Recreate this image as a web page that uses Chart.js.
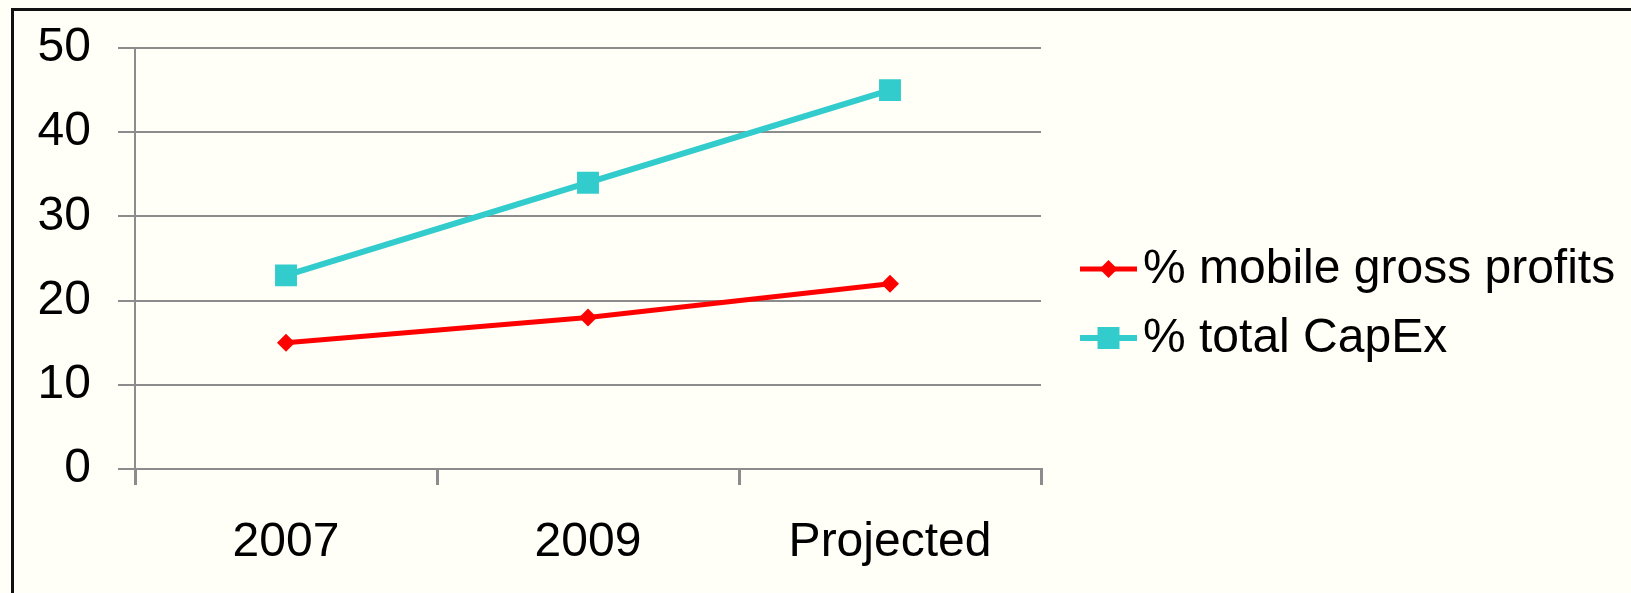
<!DOCTYPE html>
<html>
<head>
<meta charset="utf-8">
<script src="https://cdn.jsdelivr.net/npm/chart.js@4/dist/chart.umd.min.js"></script>
<style>
    html, body { margin: 0; padding: 0; background: #fffff8; overflow: hidden; }
    #frame { position: absolute; left: 11px; top: 8px; right: -20px; bottom: -20px; border: 3px solid #111; }
    #wrap { position: absolute; left: 0; top: 0; width: 1631px; height: 593px; }
</style>
</head>
<body>
<div id="frame"></div>
<div id="wrap"><canvas id="chart"></canvas></div>
<script>
const categories = ['2007', '2009', 'Projected'];
const mobileGrossProfits = [15, 18, 22];
const totalCapex = [23, 34, 45];
const yTickValues = [0, 10, 20, 30, 40, 50];

const gridGray = '#8c8c8c';
const fontFamily = "'Liberation Sans', Arial, sans-serif";

// legend drawn by hand: Excel-style line + marker swatch
const lineLegend = {
    id: 'lineLegend',
    afterDraw(chart, args, opts) {
        const ctx = chart.ctx;
        chart.data.datasets.forEach((ds, i) => {
            const y = opts.top + i * opts.rowGap;
            const cx = opts.left + opts.lineLength / 2;
            ctx.save();
            ctx.strokeStyle = ds.borderColor;
            ctx.lineWidth = ds.borderWidth;
            ctx.beginPath();
            ctx.moveTo(opts.left, y);
            ctx.lineTo(opts.left + opts.lineLength, y);
            ctx.stroke();
            ctx.fillStyle = ds.pointBackgroundColor;
            ctx.beginPath();
            if (ds.pointStyle === 'rect') {
                const s = opts.squareSize / 2;
                ctx.rect(cx - s, y - s, 2 * s, 2 * s);
            } else {
                const r = opts.diamondSize;
                ctx.moveTo(cx - r, y);
                ctx.lineTo(cx, y - r);
                ctx.lineTo(cx + r, y);
                ctx.lineTo(cx, y + r);
                ctx.closePath();
            }
            ctx.fill();
            ctx.fillStyle = '#000';
            ctx.font = `${opts.fontSize}px ${fontFamily}`;
            ctx.textBaseline = 'middle';
            ctx.textAlign = 'left';
            ctx.fillText(ds.label, opts.left + opts.lineLength + opts.textGap, y + 1);
            ctx.restore();
        });
    }
};

new Chart(document.getElementById('chart'), {
    type: 'line',
    data: {
        labels: categories,
        datasets: [
            {
                label: '% mobile gross profits',
                data: mobileGrossProfits,
                borderColor: '#ff0000',
                backgroundColor: '#ff0000',
                pointBackgroundColor: '#ff0000',
                pointBorderColor: '#ff0000',
                borderWidth: 5,
                pointStyle: 'rectRot',
                pointRadius: 9,
                pointBorderWidth: 0,
                tension: 0,
            },
            {
                label: '% total CapEx',
                data: totalCapex,
                borderColor: '#33cccc',
                backgroundColor: '#33cccc',
                pointBackgroundColor: '#33cccc',
                pointBorderColor: '#33cccc',
                borderWidth: 6,
                pointStyle: 'rect',
                pointRadius: 15.5,
                pointBorderWidth: 0,
                tension: 0,
            }
        ]
    },
    options: {
        responsive: true,
        maintainAspectRatio: false,
        animation: false,
        layout: { padding: { left: 14, top: 48, right: 590, bottom: 0 } },
        scales: {
            x: {
                offset: true,
                grid: { offset: true, drawOnChartArea: false, drawTicks: true, tickLength: 16, color: gridGray, lineWidth: 3 },
                border: { color: gridGray, width: 2 },
                ticks: { color: '#000', font: { size: 48, family: fontFamily }, padding: 29, maxRotation: 0 },
                afterFit(scale) { scale.height = 124; }
            },
            y: {
                min: 0,
                max: 50,
                afterBuildTicks(scale) { scale.ticks = yTickValues.map((v) => ({ value: v })); },
                grid: { color: gridGray, lineWidth: 2, tickLength: 17 },
                border: { color: gridGray, width: 2 },
                ticks: { color: '#000', font: { size: 48, family: fontFamily }, padding: 27 },
                afterFit(scale) {
                    scale.width = 121;
                    scale.paddingTop = 0;
                    scale.paddingBottom = 0;
                }
            }
        },
        plugins: {
            legend: { display: false },
            tooltip: { enabled: false },
            lineLegend: { left: 1080, top: 269, rowGap: 69, lineLength: 57, textGap: 6, fontSize: 48, squareSize: 22, diamondSize: 9 }
        }
    },
    plugins: [lineLegend]
});
</script>
</body>
</html>
